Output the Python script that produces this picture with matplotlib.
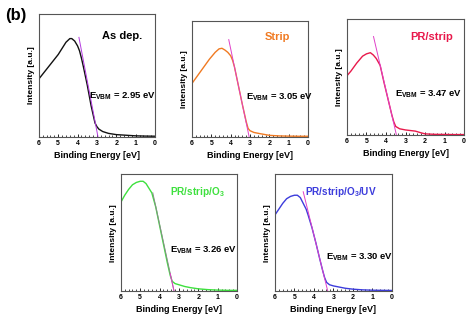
import matplotlib
matplotlib.use('Agg')
import matplotlib.pyplot as plt
from matplotlib.ticker import MultipleLocator

plt.rcParams['font.family'] = ['Liberation Sans', 'DejaVu Sans']
plt.rcParams['mathtext.fontset'] = 'custom'
plt.rcParams['mathtext.rm'] = 'Liberation Sans:bold'
plt.rcParams['mathtext.bf'] = 'Liberation Sans:bold'

# sample names, colours and E_VBM values
samples = ['As dep.', 'Strip', 'PR/strip', 'PR/strip/O$_3$', 'PR/strip/O$_3$/UV']
colors = ['#111111', '#f07a22', '#e8194b', '#3ee03e', '#3c3cdc']
evbm = [2.95, 3.05, 3.47, 3.26, 3.30]

# spectra (binding energy eV, normalised intensity)
e_asdep = [6.0, 5.7, 5.4, 5.0, 4.8, 4.6, 4.4, 4.3, 4.15, 4.0, 3.9, 3.8, 3.7, 3.5, 3.3, 3.1, 3.0,
           2.9, 2.7, 2.4, 2.0, 1.5, 1.0, 0.5, 0.0]
i_asdep = [0.47, 0.53, 0.59, 0.67, 0.72, 0.77, 0.80, 0.80, 0.78, 0.74, 0.70, 0.64, 0.57, 0.42, 0.25,
           0.11, 0.08, 0.06, 0.04, 0.025, 0.015, 0.01, 0.005, 0.003, 0.002]

e_strip = [6.0, 5.7, 5.4, 5.1, 4.8, 4.6, 4.45, 4.3, 4.15, 4.0, 3.9, 3.8, 3.6, 3.4, 3.2, 3.1, 3.0,
           2.8, 2.5, 2.0, 1.5, 1.0, 0.5, 0.0]
i_strip = [0.46, 0.53, 0.60, 0.67, 0.73, 0.76, 0.765, 0.75, 0.73, 0.70, 0.66, 0.60, 0.44, 0.28,
           0.13, 0.07, 0.05, 0.035, 0.025, 0.01, 0.005, 0.003, 0.002, 0.002]

e_pr = [6.0, 5.8, 5.5, 5.2, 5.0, 4.8, 4.65, 4.5, 4.3, 4.1, 3.9, 3.7, 3.6, 3.5, 3.3, 3.0, 2.5,
        2.2, 2.0, 1.5, 1.0, 0.5, 0.0]
i_pr = [0.51, 0.55, 0.62, 0.68, 0.70, 0.71, 0.69, 0.66, 0.60, 0.45, 0.31, 0.17, 0.11, 0.07, 0.05,
        0.04, 0.03, 0.015, 0.006, 0.002, 0.001, 0.0, 0.0]

e_o3 = [6.0, 5.8, 5.6, 5.4, 5.2, 5.0, 4.85, 4.7, 4.55, 4.4, 4.2, 4.0, 3.8, 3.6, 3.45, 3.35, 3.2,
        3.0, 2.7, 2.4, 2.0, 1.5, 1.0, 0.5, 0.0]
i_o3 = [0.76, 0.82, 0.87, 0.91, 0.93, 0.94, 0.94, 0.92, 0.88, 0.84, 0.72, 0.56, 0.40, 0.24, 0.13,
        0.08, 0.06, 0.05, 0.035, 0.025, 0.015, 0.008, 0.004, 0.002, 0.002]

e_uv = [6.0, 5.8, 5.6, 5.4, 5.2, 5.0, 4.85, 4.7, 4.55, 4.4, 4.3, 4.1, 3.9, 3.7, 3.55, 3.45, 3.35,
        3.2, 3.0, 2.7, 2.4, 2.0, 1.5, 1.0, 0.0]
i_uv = [0.65, 0.70, 0.75, 0.79, 0.81, 0.82, 0.82, 0.80, 0.75, 0.70, 0.65, 0.54, 0.41, 0.27, 0.17,
        0.11, 0.07, 0.05, 0.04, 0.03, 0.02, 0.012, 0.006, 0.003, 0.001]

spectra = [(e_asdep, i_asdep), (e_strip, i_strip), (e_pr, i_pr), (e_o3, i_o3), (e_uv, i_uv)]

# tangent (linear fit) top points: (energy, intensity), ends at E_VBM on the baseline
fit_top = [(3.93, 0.81), (4.10, 0.84), (4.64, 0.85), (4.35, 0.84), (4.55, 0.85)]
fit_color = ['#b43ce0', '#e040c8', '#e040c8', '#8a8a8a', '#e040c8']

# axes boxes in figure fraction
boxes = [[0.082, 0.573, 0.245, 0.383],
         [0.405, 0.573, 0.245, 0.361],
         [0.732, 0.579, 0.247, 0.361],
         [0.255, 0.093, 0.245, 0.364],
         [0.580, 0.093, 0.247, 0.364]]
name_pos = [(0.72, 0.82), (0.74, 0.86), (0.72, 0.85), (0.66, 0.85), (0.56, 0.85)]
name_size = [8, 8, 8, 7.2, 7.2]
ev_pos = [(0.72, 0.33), (0.75, 0.34), (0.70, 0.35), (0.71, 0.35), (0.72, 0.29)]

fig = plt.figure(figsize=(4.74, 3.21), dpi=100)

for k in range(5):
    ax = fig.add_axes(boxes[k])
    e, inten = spectra[k]
    ax.plot(e, inten, color=colors[k], lw=1.0)
    # fitted line down to E_VBM
    ax.plot([fit_top[k][0], evbm[k]], [fit_top[k][1], 0.0], color=fit_color[k], lw=0.7)
    if k == 3:
        slope = fit_top[k][1] / (fit_top[k][0] - evbm[k])
        ax.plot([3.45, evbm[k]], [slope * (3.45 - evbm[k]), 0.0], color='#e040c8', lw=0.7)
    ax.set_xlim(6, 0)
    ax.set_ylim(-0.005, 1.0)
    ax.set_yticks([])
    ax.xaxis.set_major_locator(MultipleLocator(1))
    ax.xaxis.set_minor_locator(MultipleLocator(0.2))
    ax.tick_params(axis='x', which='major', direction='in', length=2.5, width=0.6,
                   labelsize=5, pad=2)
    ax.tick_params(axis='x', which='minor', direction='in', length=1.2, width=0.5)
    for lab in ax.get_xticklabels():
        lab.set_fontweight('bold')
    for sp in ax.spines.values():
        sp.set_color('#555555')
        sp.set_linewidth(0.8)
    ax.set_xlabel('Binding Energy [eV]', fontsize=6.5, fontweight='bold', labelpad=3)
    ax.set_ylabel('Intensity [a.u.]', fontsize=6, fontweight='bold', labelpad=3)
    name_color = colors[k] if k > 0 else '#000000'
    ax.text(name_pos[k][0], name_pos[k][1], samples[k], transform=ax.transAxes,
            color=name_color, fontsize=name_size[k], fontweight='bold', ha='center', va='center')
    ax.text(ev_pos[k][0], ev_pos[k][1], 'E$_{\\mathrm{VBM}}$ = %.2f eV' % evbm[k],
            transform=ax.transAxes, fontsize=6.8, fontweight='bold', ha='center', va='center')

fig.text(0.034, 0.953, '(b)', fontsize=12, fontweight='bold', ha='center', va='center')

fig.savefig('out.png', dpi=100)
